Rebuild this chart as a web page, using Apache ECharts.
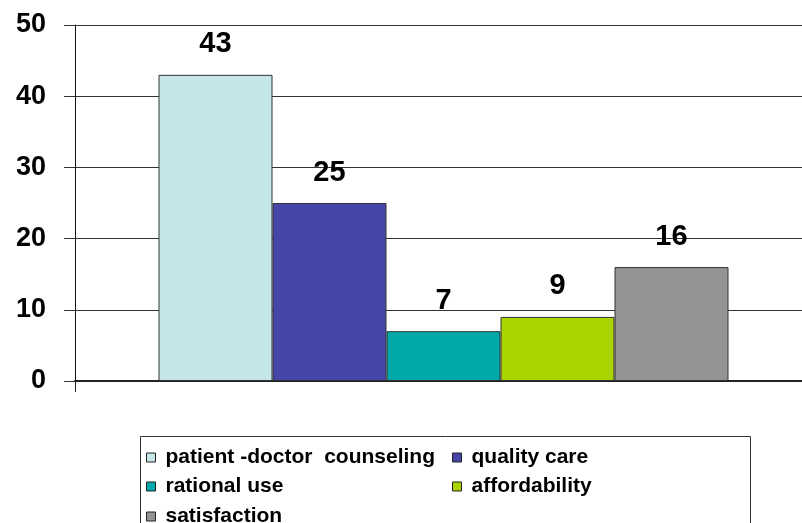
<!DOCTYPE html>
<html>
<head>
<meta charset="utf-8">
<script src="https://cdn.jsdelivr.net/npm/echarts@6/dist/echarts.min.js"></script>
<style>html,body{margin:0;padding:0;background:#fff}#c{width:802px;height:523px}</style>
</head>
<body>
<div id="c"></div>
<script>
var categories = [''];
var seriesNames = ['patient -doctor  counseling', 'quality care', 'rational use', 'affordability', 'satisfaction'];
var seriesValues = [43, 25, 7, 9, 16];
var seriesColors = ['#C4E6E8', '#4646A9', '#00A8A8', '#AAD400', '#939393'];
var yTicks = [0, 10, 20, 30, 40, 50];

var chart = echarts.init(document.getElementById('c'), null, {renderer: 'canvas'});
var FONT = 'Liberation Sans, Arial, sans-serif';
var series = seriesNames.map(function (n, i) {
  return {
    name: n,
    type: 'bar',
    data: [seriesValues[i]],
    barWidth: 114,
    barGap: '0%',
    itemStyle: {color: seriesColors[i], borderColor: '#333', borderWidth: 1},
    label: {
      show: true, position: 'top', distance: 16,
      fontFamily: FONT, fontWeight: 'bold', fontSize: 29, color: '#000'
    }
  };
});
// legend grid: two columns, three rows
var legendCols = [146, 452];
var legendRows = [447, 476, 506];
var legends = seriesNames.map(function (n, i) {
  return {
    data: [n],
    left: legendCols[i % 2], top: legendRows[Math.floor(i / 2)],
    orient: 'horizontal', icon: 'rect', itemWidth: 9, itemHeight: 9,
    itemStyle: {borderColor: '#222', borderWidth: 1},
    textStyle: {fontFamily: FONT, fontWeight: 'bold', fontSize: 21, lineHeight: 16, color: '#000', padding: [0, 0, 0, 5]},
    selectedMode: false, padding: 0
  };
});
chart.setOption({
  animation: false,
  backgroundColor: '#fff',
  grid: {left: 75, top: 25, bottom: 142, right: -10, containLabel: false, outerBoundsMode: 'none'},
  xAxis: {
    type: 'category', data: categories,
    axisLine: {show: true, lineStyle: {color: '#222', width: 2}},
    axisTick: {show: true, length: 11, lineStyle: {color: '#222'}},
    axisLabel: {show: false}
  },
  yAxis: {
    type: 'value', min: yTicks[0], max: yTicks[yTicks.length - 1], interval: 10,
    axisLine: {show: true, lineStyle: {color: '#111', width: 1}},
    axisTick: {show: true, length: 11, lineStyle: {color: '#333'}},
    splitLine: {show: true, lineStyle: {color: '#333', width: 1}},
    axisLabel: {margin: 29, padding: [4, 0, 0, 0], fontFamily: FONT, fontWeight: 'bold', fontSize: 27, color: '#000'}
  },
  legend: legends,
  graphic: [{
    type: 'rect', left: 138, top: 434, silent: true,
    shape: {width: 610, height: 100},
    style: {fill: 'none', stroke: '#333', lineWidth: 1}
  }],
  series: series
});
</script>
</body>
</html>
